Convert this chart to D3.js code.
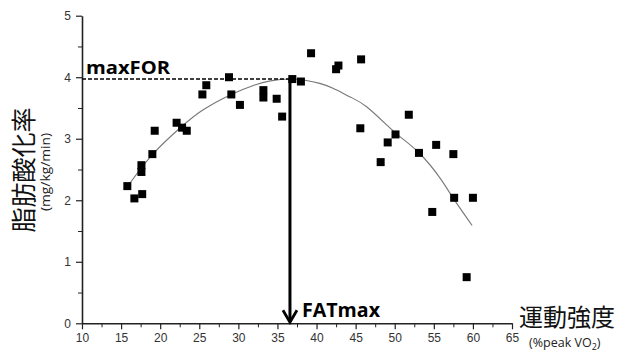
<!DOCTYPE html>
<html>
<head>
<meta charset="utf-8">
<script src="https://cdn.jsdelivr.net/npm/d3@7"></script>
<style>
  html, body { margin: 0; padding: 0; background: #fff; }
  svg { display: block; }
  .axis path, .axis line { stroke: #222; }
  .axis text { font-family: "Liberation Sans", Arial, sans-serif; font-size: 12px; fill: #333; }
</style>
</head>
<body>
<div id="chart"></div>
<script>
// measured points: exercise intensity (%peak VO2) vs fat oxidation rate (mg/kg/min)
const intensity = [15.8, 16.7, 17.7, 17.6, 17.6, 19.0, 19.3, 22.1, 22.8, 23.4,
  25.4, 25.9, 28.8, 29.1, 30.2, 33.2, 33.2, 34.9, 35.6, 36.9, 38.0, 39.3,
  42.5, 42.8, 45.7, 45.6, 48.2, 49.1, 50.1, 51.8, 53.1, 54.8, 55.3, 57.5,
  57.6, 60.0, 59.2];
const fatRate = [2.23, 2.03, 2.10, 2.46, 2.57, 2.75, 3.13, 3.26, 3.18, 3.13,
  3.72, 3.87, 4.00, 3.72, 3.55, 3.79, 3.67, 3.65, 3.36, 3.97, 3.93, 4.39,
  4.13, 4.19, 4.29, 3.17, 2.62, 2.94, 3.07, 3.39, 2.77, 1.81, 2.90, 2.75,
  2.04, 2.04, 0.75];

// fitted curve
const fitX = [15.8, 19.0, 22.5, 25.5, 29.1, 32.0, 34.1, 36.6, 38.5, 40.4, 42.1, 44.3, 46.4, 49.0, 50.7, 53.2, 55.8, 57.5, 59.9];
const fitY = [2.22, 2.74, 3.17, 3.47, 3.72, 3.87, 3.94, 3.97, 3.95, 3.90, 3.82, 3.68, 3.52, 3.22, 3.03, 2.76, 2.36, 2.03, 1.59];

// FATmax / maxFOR point
const fatMax = 36.6;
const maxFOR = 3.97;

const xTicks = [10, 15, 20, 25, 30, 35, 40, 45, 50, 55, 60, 65];
const yTicks = [0, 1, 2, 3, 4, 5];

const width = 622, height = 352;
const svg = d3.select('#chart').append('svg')
  .attr('width', width)
  .attr('height', height);

const x = d3.scaleLinear().domain([10, 65]).range([82, 512]);
const y = d3.scaleLinear().domain([0, 5]).range([323.3, 15.7]);

// minor ticks
svg.append('g')
  .attr('class', 'axis')
  .attr('transform', `translate(0,${y(0)})`)
  .call(d3.axisBottom(x).tickValues(d3.range(12.5, 65, 5)).tickSize(4).tickFormat(''))
  .call(g => g.select('.domain').remove());
svg.append('g')
  .attr('class', 'axis')
  .attr('transform', `translate(${x(10)},0)`)
  .call(d3.axisLeft(y).tickValues(d3.range(0.5, 5, 1)).tickSize(4).tickFormat(''))
  .call(g => g.select('.domain').remove());

// major axes
svg.append('g')
  .attr('class', 'axis')
  .attr('transform', `translate(0,${y(0)})`)
  .call(d3.axisBottom(x).tickValues(xTicks).tickFormat(d3.format('d')).tickSize(6).tickSizeOuter(0).tickPadding(4))
  .call(g => g.select('.domain').attr('stroke-width', 1.6))
  .call(g => g.selectAll('line').attr('stroke-width', 1.2));
svg.append('g')
  .attr('class', 'axis')
  .attr('transform', `translate(${x(10)},0)`)
  .call(d3.axisLeft(y).tickValues(yTicks).tickFormat(d3.format('d')).tickSize(6).tickSizeOuter(0).tickPadding(5))
  .call(g => g.select('.domain').attr('stroke-width', 1.6))
  .call(g => g.selectAll('line').attr('stroke-width', 1.2));

// fitted curve
const fit = fitX.map((v, i) => [v, fitY[i]]);
svg.append('path')
  .datum(fit)
  .attr('fill', 'none')
  .attr('stroke', '#777')
  .attr('stroke-width', 1.1)
  .attr('d', d3.line().curve(d3.curveNatural).x(d => x(d[0])).y(d => y(d[1])));

// data squares
const sq = 8;
svg.append('g')
  .selectAll('rect')
  .data(intensity.map((v, i) => [v, fatRate[i]]))
  .join('rect')
  .attr('x', d => x(d[0]) - sq / 2)
  .attr('y', d => y(d[1]) - sq / 2)
  .attr('width', sq)
  .attr('height', sq)
  .attr('fill', '#000');

// dashed maxFOR line
svg.append('line')
  .attr('x1', x(10)).attr('x2', x(fatMax))
  .attr('y1', y(maxFOR)).attr('y2', y(maxFOR))
  .attr('stroke', '#000')
  .attr('stroke-width', 1.5)
  .attr('stroke-dasharray', '4,2');

// FATmax arrow
svg.append('line')
  .attr('x1', x(fatMax)).attr('x2', x(fatMax))
  .attr('y1', y(maxFOR)).attr('y2', y(0) - 2)
  .attr('stroke', '#000')
  .attr('stroke-width', 3);
svg.append('path')
  .attr('d', `M${x(fatMax) - 7},${y(0) - 13} L${x(fatMax)},${y(0) - 1} L${x(fatMax) + 7},${y(0) - 13}`)
  .attr('fill', 'none')
  .attr('stroke', '#000')
  .attr('stroke-width', 2.8);

// labels
svg.append('text')
  .attr('x', 86).attr('y', 74)
  .attr('font-family', '"Open Sans", sans-serif')
  .attr('font-weight', 700)
  .attr('font-size', 17)
  .attr('textLength', 84)
  .attr('lengthAdjust', 'spacingAndGlyphs')
  .text('maxFOR');

svg.append('text')
  .attr('x', 302).attr('y', 317)
  .attr('font-family', '"Open Sans", sans-serif')
  .attr('font-weight', 700)
  .attr('font-size', 20)
  .attr('textLength', 78)
  .attr('lengthAdjust', 'spacingAndGlyphs')
  .text('FATmax');

svg.append('text')
  .attr('transform', 'translate(33,170) rotate(-90)')
  .attr('text-anchor', 'middle')
  .attr('font-family', '"Noto Sans CJK JP", sans-serif')
  .attr('font-size', 25)
  .attr('fill', '#111')
  .text('脂肪酸化率');

svg.append('text')
  .attr('transform', 'translate(50,172) rotate(-90)')
  .attr('text-anchor', 'middle')
  .attr('font-family', '"Open Sans", sans-serif')
  .attr('font-size', 13)
  .attr('textLength', 78)
  .attr('lengthAdjust', 'spacingAndGlyphs')
  .attr('fill', '#222')
  .text('(mg/kg/min)');

svg.append('text')
  .attr('x', 567).attr('y', 326)
  .attr('text-anchor', 'middle')
  .attr('font-family', '"Noto Sans CJK JP", sans-serif')
  .attr('font-size', 24)
  .attr('fill', '#111')
  .text('運動強度');

const sub = svg.append('text')
  .attr('x', 529).attr('y', 347)
  .attr('font-family', '"Open Sans", sans-serif')
  .attr('font-size', 12.5)
  .attr('fill', '#222');
sub.append('tspan').text('(%peak VO');
sub.append('tspan').attr('font-size', 9).attr('dy', 3).text('2');
sub.append('tspan').attr('dy', -3).text(')');
</script>
</body>
</html>
